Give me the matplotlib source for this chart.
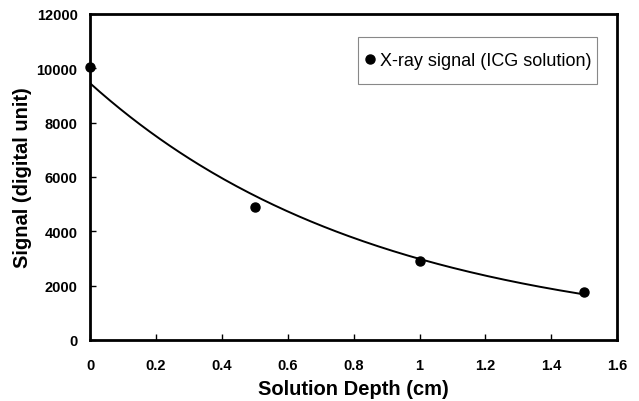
import numpy as np
import matplotlib
matplotlib.use("Agg")
import matplotlib.pyplot as plt
from matplotlib.patches import Rectangle

plt.rcParams["font.family"] = ["Liberation Sans", "DejaVu Sans"]

# measured points
depth = np.array([0.0, 0.5, 1.0, 1.5])
signal = np.array([10050, 4900, 2900, 1750])

x_ticks = [0, 0.2, 0.4, 0.6, 0.8, 1, 1.2, 1.4, 1.6]
x_labels = ["0", "0.2", "0.4", "0.6", "0.8", "1", "1.2", "1.4", "1.6"]
y_ticks = [0, 2000, 4000, 6000, 8000, 10000, 12000]

# exponential trendline (log-linear least squares, like Excel)
k, ln_a = np.polyfit(depth, np.log(signal), 1)
xs = np.linspace(depth.min(), depth.max(), 200)
fit = np.exp(ln_a) * np.exp(k * xs)

fig = plt.figure(figsize=(6.39, 4.02), dpi=100)
ax = fig.add_axes([0.141, 0.152, 0.825, 0.811])

ax.plot(xs, fit, color="black", linewidth=1.4)
ax.plot(depth, signal, "o", color="black", markersize=6.5, clip_on=False,
        label="X-ray signal (ICG solution)")

ax.set_xlim(0, 1.6)
ax.set_ylim(0, 12000)
ax.set_xticks(x_ticks)
ax.set_xticklabels(x_labels)
ax.set_yticks(y_ticks)
ax.tick_params(direction="in", length=4, width=1, labelsize=10.5)
ax.tick_params(axis="x", pad=13)
ax.tick_params(axis="y", pad=9)
for lbl in ax.get_xticklabels() + ax.get_yticklabels():
    lbl.set_fontweight("bold")
for spine in ax.spines.values():
    spine.set_linewidth(2)

ax.set_xlabel("Solution Depth (cm)", fontsize=14.5, fontweight="bold", labelpad=5)
ax.set_ylabel("Signal (digital unit)", fontsize=14.5, fontweight="bold", labelpad=3)

# legend box is wider-than-tall padded in the original, so frame drawn separately
ax.add_patch(Rectangle((0.5085, 0.785), 0.4535, 0.144, transform=ax.transAxes,
                       facecolor="white", edgecolor="#888888", linewidth=0.8, zorder=4))
leg = ax.legend(loc="center right", bbox_to_anchor=(0.962, 0.857), borderaxespad=0,
                fontsize=13, frameon=False, handletextpad=0.1,
                handlelength=0.9, borderpad=0.3)
leg.set_zorder(5)

fig.savefig("out.png", dpi=100)
